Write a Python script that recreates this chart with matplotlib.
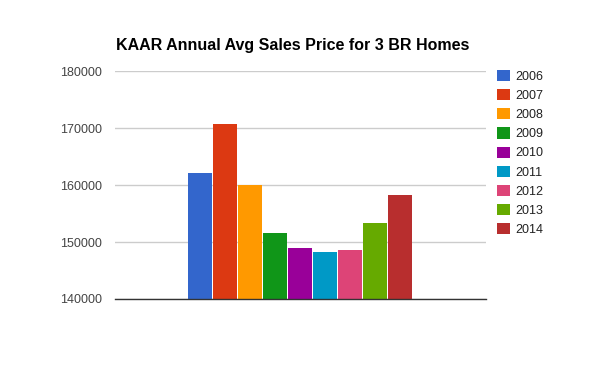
import numpy as np
import matplotlib.pyplot as plt
from matplotlib.patches import Patch

plt.rcParams['font.family'] = ['Liberation Sans', 'DejaVu Sans']

years = ['2006', '2007', '2008', '2009', '2010', '2011', '2012', '2013', '2014']
prices = [162100, 170700, 160000, 151600, 148950, 148250, 148600, 153350, 158250]
colors = ['#3366cc', '#dc3912', '#ff9900', '#109618', '#990099',
          '#0099c6', '#dd4477', '#66aa00', '#b82e2e']
yticks = [140000, 150000, 160000, 170000, 180000]

fig = plt.figure(figsize=(6, 3.71), dpi=100)
ax = fig.add_axes([0.1917, 0.1941, 0.6178, 0.6137])

# one category group, bars side by side
slot = 25 / 370.7
xs = (np.arange(len(years)) - (len(years) - 1) / 2) * slot
ax.bar(xs, np.array(prices) - yticks[0], bottom=yticks[0], width=slot * 24 / 25,
       color=colors, zorder=3)

ax.set_xlim(-0.5, 0.5)
ax.set_ylim(yticks[0], yticks[-1])
ax.set_yticks(yticks)
ax.set_yticklabels([str(t) for t in yticks])
ax.set_xticks([])
ax.tick_params(axis='y', length=0, pad=9.5, labelsize=9, labelcolor='#444444')
ax.grid(axis='y', color='#cccccc', linewidth=1, zorder=0)
for s in ['top', 'right', 'left']:
    ax.spines[s].set_visible(False)
ax.spines['bottom'].set_color('#333333')
ax.spines['bottom'].set_linewidth(1)
ax.spines['bottom'].set_zorder(4)

fig.text(116 / 600, 1 - 50 / 371, 'KAAR Annual Avg Sales Price for 3 BR Homes',
         fontsize=11.5, fontweight='bold', color='black', va='baseline', ha='left')

handles = [Patch(facecolor=c, edgecolor='none') for c in colors]
fig.legend(handles, years, loc='upper left', bbox_to_anchor=(497 / 600, 1 - 70 / 371),
           frameon=False, fontsize=9, handlelength=1.0, handleheight=1.0,
           handletextpad=0.45, labelspacing=0.50, borderpad=0, borderaxespad=0,
           labelcolor='#222222')

fig.savefig('out.png', dpi=100, facecolor='white')
